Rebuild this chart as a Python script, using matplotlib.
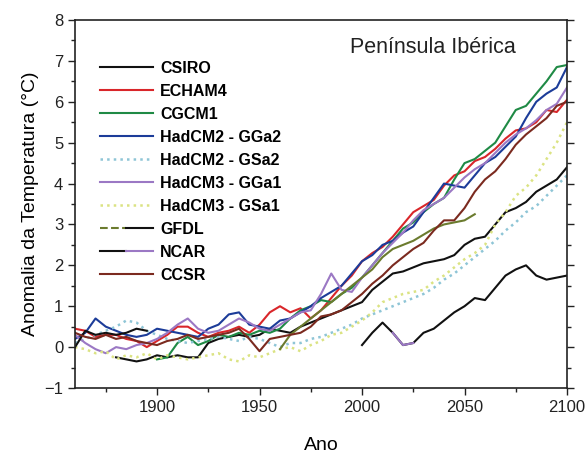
import numpy as np
import matplotlib
matplotlib.use("Agg")
import matplotlib.pyplot as plt
from matplotlib.lines import Line2D
from matplotlib.legend_handler import HandlerTuple
from matplotlib.ticker import MultipleLocator

plt.rcParams['font.family'] = ['Liberation Sans', 'DejaVu Sans']

nan = np.nan

# years every 5, 1860..2100
years = np.arange(1860, 2101, 5)

csiro = [nan, nan, nan, nan, -0.25, -0.3, -0.35, -0.3, -0.2, -0.25, -0.2, -0.25,
         -0.25, 0.1, 0.2, 0.25, 0.3, 0.25, 0.3, 0.45, 0.4, 0.35, 0.5, 0.6,
         0.7, 0.8, 0.9, 1.0, 1.1, 1.4, 1.6, 1.8, 1.85, 1.95, 2.05, 2.1,
         2.15, 2.25, 2.5, 2.65, 2.7, 3.0, 3.3, 3.4, 3.55, 3.8, 3.95, 4.1, 4.4]
echam4 = [0.45, 0.4, 0.25, 0.3, 0.3, 0.2, 0.15, 0.0, 0.15, 0.3, 0.5, 0.5,
          0.35, 0.25, 0.35, 0.4, 0.5, 0.35, 0.55, 0.85, 1.0, 0.85, 0.95, 0.7,
          0.9, 1.2, 1.5, 1.75, 2.1, 2.3, 2.45, 2.7, 3.0, 3.3, 3.45, 3.6,
          3.95, 4.2, 4.3, 4.55, 4.65, 4.85, 5.1, 5.3, 5.35, 5.5, 5.8, 5.75, 6.05]
cgcm1 = [nan, nan, nan, nan, nan, nan, nan, nan, -0.3, -0.25, 0.1, 0.25,
         0.05, 0.15, 0.3, 0.25, 0.35, 0.3, 0.4, 0.35, 0.45, 0.7, 0.9, 1.0,
         1.15, 1.1, 1.3, 1.45, 1.7, 2.0, 2.3, 2.6, 2.9, 3.05, 3.3, 3.5,
         3.65, 4.1, 4.5, 4.6, 4.8, 5.0, 5.4, 5.8, 5.9, 6.2, 6.5, 6.85, 6.9]
hadcm2_gga2 = [0.2, 0.35, 0.7, 0.5, 0.4, 0.3, 0.25, 0.3, 0.45, 0.4, 0.35, 0.3,
               0.25, 0.45, 0.55, 0.8, 0.85, 0.55, 0.5, 0.45, 0.65, 0.7, 0.85, 1.0,
               1.2, 1.35, 1.5, 1.8, 2.1, 2.25, 2.5, 2.6, 2.8, 2.95, 3.3, 3.65,
               4.0, 3.95, 3.9, 4.2, 4.5, 4.65, 4.9, 5.15, 5.6, 6.0, 6.2, 6.35, 6.85]
hadcm2_gsa2 = [0.1, 0.2, 0.3, 0.4, 0.5, 0.65, 0.6, 0.4, 0.3, 0.2, 0.15, 0.1,
               0.15, 0.2, 0.25, 0.2, 0.15, 0.25, 0.2, 0.1, 0.0, 0.1, 0.1, 0.2,
               0.25, 0.35, 0.45, 0.55, 0.7, 0.8, 0.9, 1.0, 1.1, 1.2, 1.3, 1.45,
               1.65, 1.8, 2.0, 2.2, 2.4, 2.6, 2.85, 3.05, 3.3, 3.45, 3.7, 3.95, 4.2]
hadcm3_gga1 = [0.3, 0.1, -0.05, -0.15, 0.0, -0.05, 0.05, 0.1, 0.2, 0.35, 0.55, 0.7,
               0.45, 0.35, 0.4, 0.55, 0.7, 0.6, 0.45, 0.4, 0.55, 0.7, 0.85, 0.9,
               1.3, 1.8, 1.4, 1.35, 1.7, 2.0, 2.3, 2.55, 2.8, 3.1, 3.35, 3.5,
               3.65, 3.9, 4.15, 4.35, 4.5, 4.75, 5.0, 5.2, 5.35, 5.55, 5.8, 5.95, 6.35]
hadcm3_gsa1 = [0.0, -0.05, -0.15, -0.1, -0.3, -0.2, -0.25, -0.15, -0.3, -0.2, -0.25, -0.3,
               -0.25, -0.2, -0.15, -0.3, -0.35, -0.2, -0.25, -0.15, -0.05, 0.0, -0.1, 0.05,
               0.15, 0.3, 0.35, 0.5, 0.65, 0.85, 1.1, 1.2, 1.3, 1.35, 1.4, 1.6,
               1.75, 1.95, 2.15, 2.3, 2.5, 3.0, 3.3, 3.7, 3.9, 4.2, 4.6, 5.0, 5.5]
gfdl = [nan, nan, nan, nan, nan, nan, nan, nan, nan, nan, nan, nan,
        nan, nan, nan, nan, nan, nan, nan, nan, -0.05, 0.3, 0.5, 0.7,
        0.9, 1.1, 1.3, 1.5, 1.7, 1.9, 2.2, 2.4, 2.5, 2.6, 2.75, 2.9,
        3.0, 3.05, 3.1, 3.25, nan, nan, nan, nan, nan, nan, nan, nan, nan]
ncar = [0.0, 0.4, 0.3, 0.35, 0.3, 0.35, 0.45, 0.4, nan, nan, nan, nan,
        nan, nan, nan, nan, nan, nan, nan, nan, nan, nan, nan, nan,
        nan, nan, nan, nan, 0.05, 0.35, 0.6, 0.35, 0.05, 0.1, 0.35, 0.45,
        0.65, 0.85, 1.0, 1.2, 1.15, 1.45, 1.75, 1.9, 2.0, 1.75, 1.65, 1.7, 1.75]
ccsr = [0.35, 0.25, 0.2, 0.3, 0.2, 0.25, 0.15, 0.1, 0.05, 0.15, 0.2, 0.3,
        0.2, 0.25, 0.3, 0.35, 0.45, 0.2, -0.1, 0.2, 0.25, 0.3, 0.35, 0.5,
        0.75, 0.8, 0.9, 1.1, 1.3, 1.55, 1.75, 2.0, 2.2, 2.4, 2.55, 2.85,
        3.1, 3.1, 3.4, 3.8, 4.1, 4.3, 4.6, 4.95, 5.2, 5.4, 5.6, 5.9, 6.0]

purple = '#9b78c4'
fig = plt.figure(figsize=(5.88, 4.53), dpi=100)
ax = fig.add_axes([0.1276, 0.1435, 0.8367, 0.8123])

lw = 1.5
l_csiro, = ax.plot(years, csiro, color='#111111', lw=lw)
l_echam, = ax.plot(years, echam4, color='#d9262a', lw=lw)
l_cgcm, = ax.plot(years, cgcm1, color='#1f8a45', lw=lw)
l_gga2, = ax.plot(years, hadcm2_gga2, color='#1c3c99', lw=lw)
l_gsa2, = ax.plot(years, hadcm2_gsa2, color='#8ec5d6', lw=1.8, ls=':')
l_gga1, = ax.plot(years, hadcm3_gga1, color=purple, lw=lw)
l_gsa1, = ax.plot(years, hadcm3_gsa1, color='#dbe383', lw=1.8, ls=':')
l_gfdl, = ax.plot(years, gfdl, color='#6b7b2e', lw=lw)
l_ncar, = ax.plot(years, ncar, color='#111111', lw=lw)
ax.plot(years[31:34], ncar[31:34], color=purple, lw=lw)
l_ccsr, = ax.plot(years, ccsr, color='#7b2a1f', lw=lw)

ax.set_xlim(1860, 2100)
ax.set_ylim(-1, 8)
ax.xaxis.set_major_locator(MultipleLocator(50))
ax.xaxis.set_minor_locator(MultipleLocator(25))
ax.yaxis.set_major_locator(MultipleLocator(1))
ax.yaxis.set_minor_locator(MultipleLocator(0.5))
ax.tick_params(which='both', direction='out', right=True, top=False,
               labelsize=12, width=1.0, colors='#222222')
ax.tick_params(which='major', length=5)
ax.tick_params(which='minor', length=3)
for s in ax.spines.values():
    s.set_linewidth(1.2)
    s.set_color('#222222')

ax.set_xlabel('Ano', fontsize=14, labelpad=16)
ax.set_ylabel('Anomalia da Temperatura (\u00b0C)', fontsize=14, labelpad=4)
ax.text(0.558, 0.925, 'Península Ibérica', transform=ax.transAxes,
        fontsize=15.5, ha='left', va='center', color='#222222')

handles = [
    l_csiro, l_echam, l_cgcm, l_gga2, l_gsa2, l_gga1, l_gsa1,
    (Line2D([], [], color='#6b7b2e', lw=lw, ls='--'), Line2D([], [], color='#111111', lw=lw)),
    (Line2D([], [], color='#111111', lw=lw), Line2D([], [], color=purple, lw=lw)),
    l_ccsr,
]
labels = ['CSIRO', 'ECHAM4', 'CGCM1', 'HadCM2 - GGa2', 'HadCM2 - GSa2',
          'HadCM3 - GGa1', 'HadCM3 - GSa1', 'GFDL', 'NCAR', 'CCSR']
leg = fig.legend(handles, labels, loc='upper left',
                 bbox_to_anchor=(100 / 588, 1 - 61 / 453),
                 frameon=False, borderpad=0, borderaxespad=0,
                 handlelength=3.3, handletextpad=0.45, labelspacing=0.5,
                 prop={'size': 11.5, 'weight': 'bold'},
                 handler_map={tuple: HandlerTuple(ndivide=2, pad=0)})

fig.savefig('out.png', dpi=100)
